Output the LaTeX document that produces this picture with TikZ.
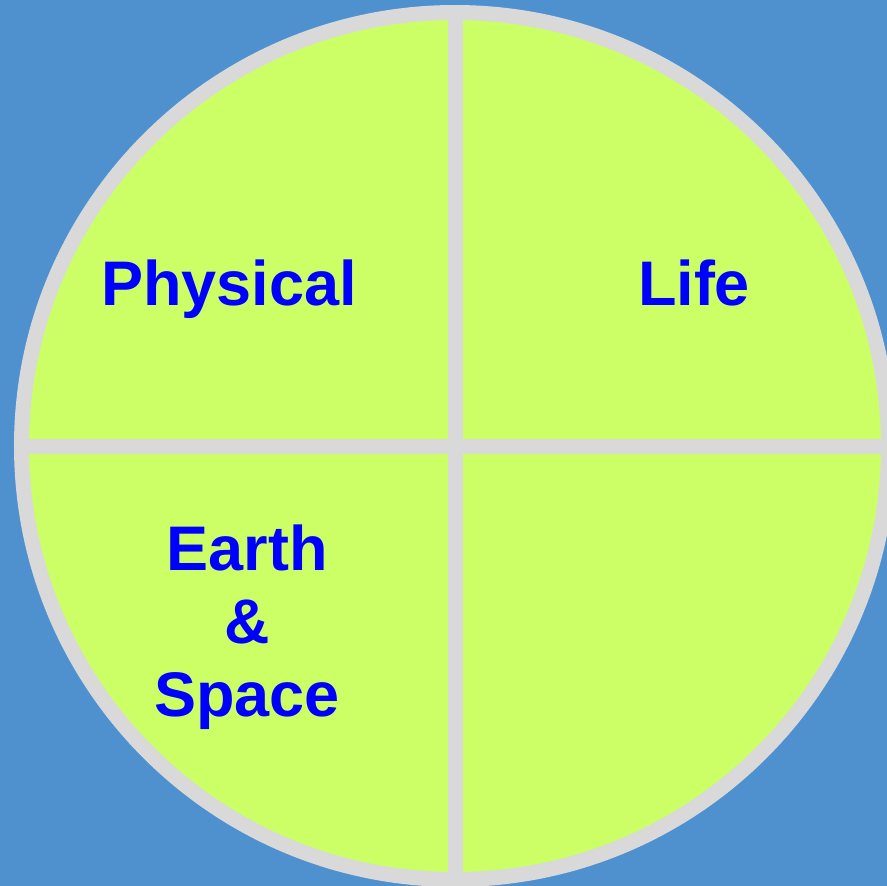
\documentclass[tikz,border=0pt]{standalone}
\usepackage{fontspec}
\setmainfont{Liberation Sans}
\usepackage{xcolor}
\definecolor{bgblue}{RGB}{79,145,207}
\definecolor{discgreen}{RGB}{204,255,102}
\definecolor{ringgray}{RGB}{217,217,217}
\definecolor{labelblue}{RGB}{0,0,255}
\usetikzlibrary{shapes.geometric, calc}

\begin{document}
\begin{tikzpicture}[
    x=1pt, y=-1pt,
    disc/.style={circle, draw=ringgray, fill=discgreen, line width=15pt,
      minimum size=867pt, inner sep=0pt, outer sep=0pt},
    divider/.style={draw=ringgray, line width=15pt},
    quarter/.style={font=\fontsize{63}{73}\selectfont\bfseries,
      text=labelblue, align=center, inner sep=0pt}
]
\fill[bgblue] (0,0) rectangle (887,886);
\useasboundingbox (0,0) rectangle (887,886);

\node[disc] (disc) at (455,446) {};
\draw[divider] (disc.north) -- (disc.south);
\draw[divider] (disc.west) -- (disc.east);

\node[quarter, anchor=base] (physical) at (229,305) {Physical};
\node[quarter, anchor=base] (life) at (694,305) {Life};
\node[quarter, anchor=north] (earth) at (247,525) {Earth\\\&\\Space};
\end{tikzpicture}
\end{document}
